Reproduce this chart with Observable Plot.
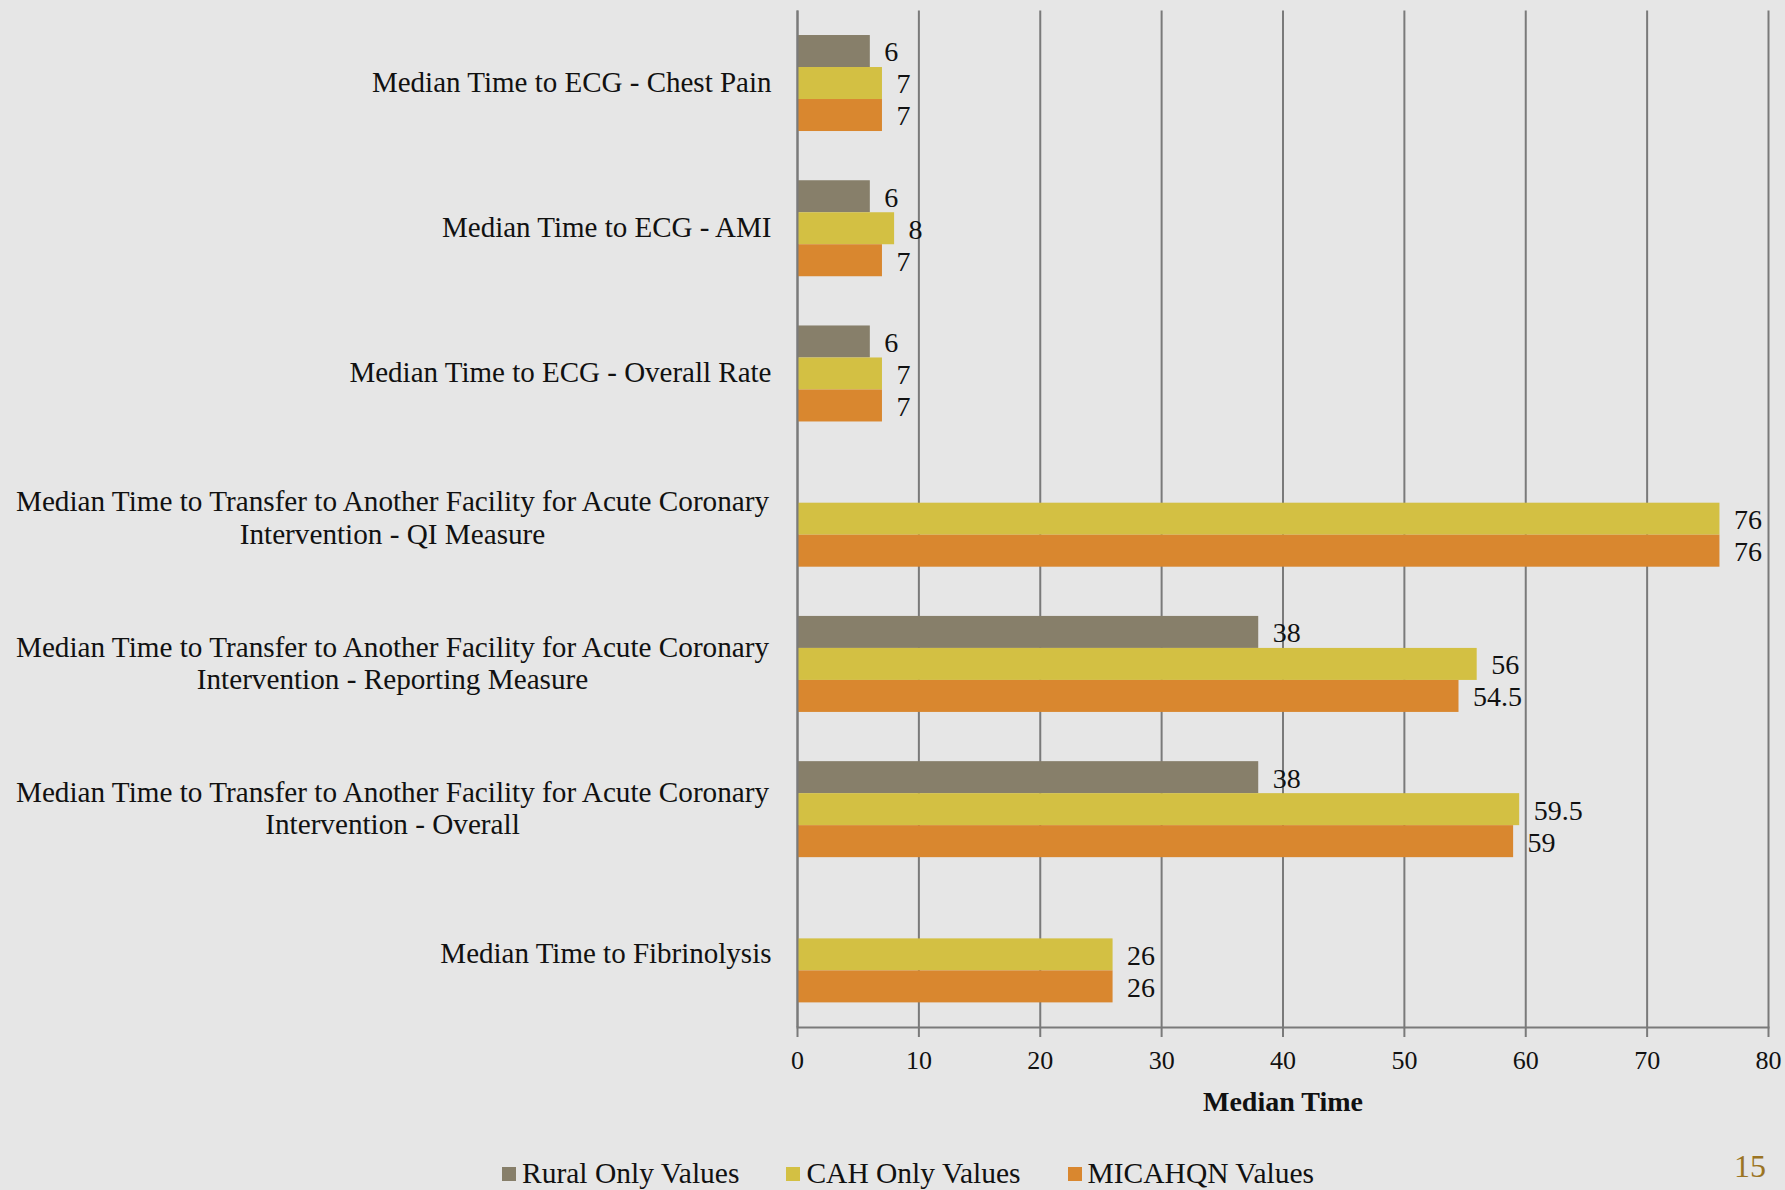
<!DOCTYPE html>
<html>
<head>
<meta charset="utf-8">
<script src="https://cdn.jsdelivr.net/npm/d3@7"></script>
<script src="https://cdn.jsdelivr.net/npm/@observablehq/plot@0.6"></script>
<style>
  html, body { margin: 0; padding: 0; background: #e6e6e6; }
  #wrap { position: relative; width: 1785px; height: 1190px; overflow: hidden;
          font-family: "Palatino Linotype", "Book Antiqua", Palatino, "Liberation Serif", serif; color: #111; }
  #chart { position: absolute; left: 0; top: 0; }
  #chart svg { display: block; }
  #legend { position: absolute; left: 502px; top: 1157px; }
  #page { position: absolute; left: 1734px; top: 1148px; font-size: 32px; color: #9b7423; }
</style>
</head>
<body>
<div id="wrap">
  <div id="chart"></div>
  <div id="legend"></div>
  <div id="page">15</div>
</div>
<script>
const categories = [
  "Median Time to ECG - Chest Pain",
  "Median Time to ECG - AMI",
  "Median Time to ECG - Overall Rate",
  "Median Time to Transfer to Another Facility for Acute Coronary Intervention - QI Measure",
  "Median Time to Transfer to Another Facility for Acute Coronary Intervention - Reporting Measure",
  "Median Time to Transfer to Another Facility for Acute Coronary Intervention - Overall",
  "Median Time to Fibrinolysis"
];
const categoryLabels = [
  "Median Time to ECG - Chest Pain",
  "Median Time to ECG - AMI",
  "Median Time to ECG - Overall Rate",
  "Median Time to Transfer to Another Facility for Acute Coronary\nIntervention - QI Measure",
  "Median Time to Transfer to Another Facility for Acute Coronary\nIntervention - Reporting Measure",
  "Median Time to Transfer to Another Facility for Acute Coronary\nIntervention - Overall",
  "Median Time to Fibrinolysis"
];
const series = ["Rural Only Values", "CAH Only Values", "MICAHQN Values"];
const ruralValues   = [6, 6, 6, null, 38, 38, null];
const cahValues     = [7, 8, 7, 76, 56, 59.5, 26];
const micahqnValues = [7, 7, 7, 76, 54.5, 59, 26];
const xTicks = [0, 10, 20, 30, 40, 50, 60, 70, 80];
const seriesColors = ["#877f6a", "#d3c043", "#d9872f"];
const xTitle = "Median Time";

const seriesValues = [ruralValues, cahValues, micahqnValues];
const data = [];
series.forEach((s, k) => {
  categories.forEach((c, i) => {
    const v = seriesValues[k][i];
    if (v != null) data.push({category: c, series: s, k, value: v});
  });
});
const labelOf = new Map(categories.map((c, i) => [c, categoryLabels[i]]));

const W = 1785, H = 1130, mT = 10.4, mB = 103, mL = 797, mR = 17;
const step = (H - mT - mB) / categories.length;
const barH = 32;
const pad = (step - 3 * barH) / 2;
const FONT = '"Palatino Linotype", "Book Antiqua", Palatino, "Liberation Serif", serif';
const grid = "#7a7a7a";

const marks = [Plot.ruleX(xTicks, {stroke: grid, strokeWidth: 2})];
series.forEach((s, k) => {
  const rows = data.filter(d => d.k === k);
  marks.push(Plot.barX(rows, {
    x1: 0, x2: "value", y: "category", fill: seriesColors[k],
    insetTop: pad + k * barH, insetBottom: pad + (2 - k) * barH
  }));
  marks.push(Plot.text(rows, {
    x: "value", y: "category", text: d => String(d.value),
    dx: 14, dy: (k - 1) * barH + 1, textAnchor: "start", fontSize: 28, fill: "#111"
  }));
});
marks.push(Plot.ruleX([0], {stroke: grid, strokeWidth: 2}));
marks.push(Plot.frame({anchor: "bottom", stroke: grid, strokeWidth: 2}));
marks.push(Plot.axisX({ticks: xTicks, tickSize: 10, tickPadding: 13, stroke: grid, strokeWidth: 2,
  fill: "#111", fontSize: 26, label: null}));
marks.push(Plot.text([xTitle], {text: d => d, frameAnchor: "bottom", dy: 75, fontWeight: "bold",
  fontSize: 28, fill: "#111", lineAnchor: "middle"}));
marks.push(Plot.axisY({tickSize: 0, tickPadding: 26, textAnchor: "end", fontSize: 29, fill: "#111",
  lineHeight: 1.12, label: null, dy: -2,
  tickFormat: d => labelOf.get(d).includes("\n") ? "" : labelOf.get(d)}));
marks.push(Plot.axisY({tickSize: 0, tickPadding: 405, textAnchor: "middle", fontSize: 29.2, fill: "#111",
  lineHeight: 1.12, label: null, dy: -2,
  tickFormat: d => labelOf.get(d).includes("\n") ? labelOf.get(d) : ""}));

const chart = Plot.plot({
  width: W, height: H,
  marginTop: mT, marginBottom: mB, marginLeft: mL, marginRight: mR,
  style: {fontFamily: FONT, fontSize: "28px", background: "transparent", color: "#111"},
  x: {domain: [0, 80], label: null},
  y: {domain: categories, padding: 0, round: false, label: null},
  marks
});
document.getElementById("chart").appendChild(chart);

const leg = Plot.legend({
  color: {domain: series, range: seriesColors},
  legend: "swatches", swatchSize: 14,
  style: {fontFamily: FONT, fontSize: "29.5px", color: "#111", background: "transparent"}
});
leg.querySelectorAll("svg").forEach(s => { s.style.marginRight = "6px"; });
Array.from(leg.children).filter(e => e.tagName === "SPAN").forEach(s => { s.style.marginRight = "47px"; });
document.getElementById("legend").appendChild(leg);
</script>
</body>
</html>
